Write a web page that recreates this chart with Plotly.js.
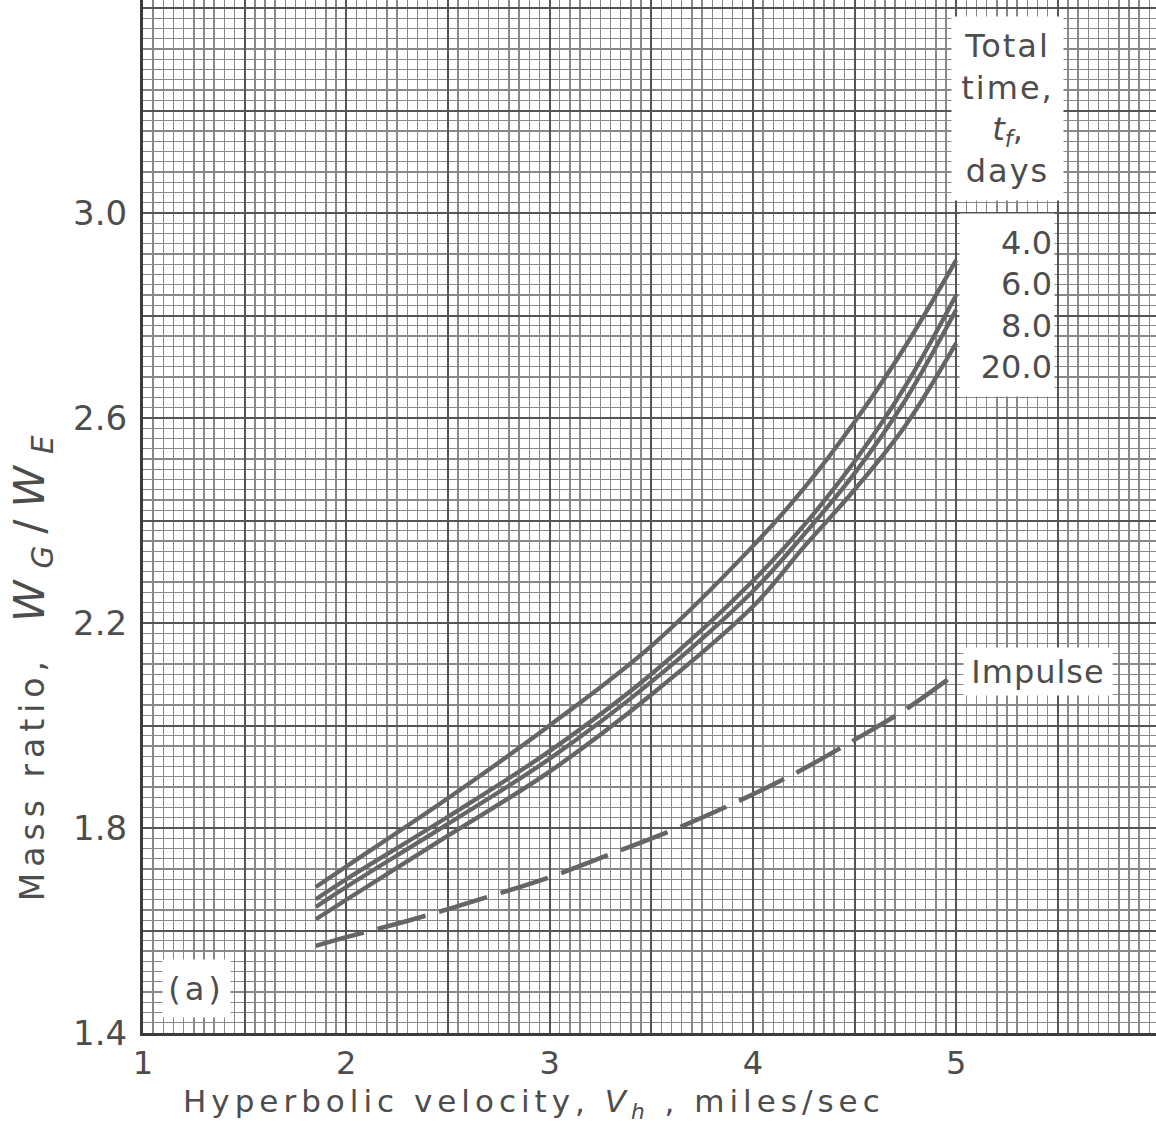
<!DOCTYPE html>
<html>
<head>
<meta charset="utf-8">
<script src="https://cdn.plot.ly/plotly-3.0.1.min.js"></script>
<style>
  html, body { margin: 0; padding: 0; background: #ffffff; }
  #chart { width: 1156px; height: 1133px; }
</style>
</head>
<body>
<div id="chart"></div>
<script>
// ---- Data ----
const velocity = [1.85, 2.0, 2.5, 3.0, 3.5, 4.0, 4.25, 4.5, 4.75, 5.0];
const ratio_t4  = [1.685, 1.725, 1.858, 2.000, 2.155, 2.350, 2.462, 2.592, 2.740, 2.908];
const ratio_t6  = [1.661, 1.700, 1.822, 1.950, 2.100, 2.282, 2.390, 2.515, 2.662, 2.840];
const ratio_t8  = [1.646, 1.685, 1.808, 1.935, 2.085, 2.262, 2.372, 2.492, 2.635, 2.811];
const ratio_t20 = [1.622, 1.660, 1.785, 1.910, 2.060, 2.232, 2.348, 2.460, 2.585, 2.746];

const impulseV     = [1.85, 2.0, 2.33, 2.7, 3.0, 3.3, 3.6, 3.9, 4.2, 4.5, 4.75, 5.0];
const impulseRatio = [1.570, 1.587, 1.622, 1.666, 1.704, 1.749, 1.795, 1.847, 1.905, 1.972, 2.031, 2.102];

const seriesNames = ['4.0', '6.0', '8.0', '20.0'];

const xTickVals = [1, 1.5, 2, 2.5, 3, 3.5, 4, 4.5, 5, 5.5];
const xTickText = ['1', '', '2', '', '3', '', '4', '', '5', ''];
const yTickVals = [1.4, 1.6, 1.8, 2.0, 2.2, 2.4, 2.6, 2.8, 3.0, 3.2, 3.4];
const yTickText = ['1.4', '', '1.8', '', '2.2', '', '2.6', '', '3.0', '', ''];

// ---- Styles ----
const FONT = 'DejaVu Sans, sans-serif';
const TEXT_COLOR = '#4d4d4d';
const CURVE_COLOR = '#656565';

const solidSets = [ratio_t4, ratio_t6, ratio_t8, ratio_t20];
const traces = solidSets.map((ys, i) => ({
  type: 'scatter', mode: 'lines',
  name: seriesNames[i],
  x: velocity, y: ys,
  line: { color: CURVE_COLOR, width: 4.3, shape: 'spline', smoothing: 1 },
  hoverinfo: 'skip', showlegend: false
}));
traces.push({
  type: 'scatter', mode: 'lines', name: 'Impulse',
  x: impulseV, y: impulseRatio,
  line: { color: CURVE_COLOR, width: 4.5, dash: '50px,14px', shape: 'spline', smoothing: 1 },
  hoverinfo: 'skip', showlegend: false
});

const labelFont = { family: FONT, size: 32, color: TEXT_COLOR };
const sp = (t, ls) => '<span style="letter-spacing:' + ls + 'px">' + t + '</span>';

const layout = {
  width: 1156, height: 1133,
  margin: { l: 143, r: 0, t: 0, b: 100, pad: 0 },
  paper_bgcolor: '#ffffff', plot_bgcolor: '#ffffff',
  showlegend: false,
  xaxis: {
    range: [1, 5.983],
    tickmode: 'array', tickvals: xTickVals, ticktext: xTickText,
    ticks: '', ticklabelstandoff: 0,
    tickfont: { family: FONT, size: 32, color: TEXT_COLOR },
    showgrid: true, gridcolor: '#555555', gridwidth: 2,
    minor: { dtick: 0.05, tick0: 1, showgrid: true, gridcolor: '#888888', gridwidth: 1.4, ticks: '' },
    showline: true, linecolor: '#3c3c3c', linewidth: 3,
    zeroline: false, fixedrange: true
  },
  yaxis: {
    range: [1.4, 3.4156],
    tickmode: 'array', tickvals: yTickVals, ticktext: yTickText,
    ticks: '', ticklabelstandoff: 6,
    tickfont: { family: FONT, size: 34, color: TEXT_COLOR },
    showgrid: true, gridcolor: '#555555', gridwidth: 2,
    minor: { dtick: 0.02, tick0: 1.4, showgrid: true, gridcolor: '#888888', gridwidth: 1.4, ticks: '' },
    showline: true, linecolor: '#3c3c3c', linewidth: 3,
    zeroline: false, fixedrange: true
  },
  annotations: [
    // axis titles
    {
      xref: 'paper', yref: 'paper', x: 0.386, y: -0.068,
      xanchor: 'center', yanchor: 'middle', showarrow: false,
      text: sp('Hyperbolic velocity, <i>V<sub>h</sub></i> , miles/sec', 5),
      font: { family: FONT, size: 31, color: TEXT_COLOR }
    },
    {
      xref: 'paper', yref: 'paper', x: -0.1096, y: 0.359,
      xanchor: 'center', yanchor: 'middle', showarrow: false, textangle: -90,
      text: sp('Mass ratio,&nbsp;&nbsp;', 6) +
            '<span style="font-size:42px;letter-spacing:12px"><i>W<sub>G</sub></i>/<i>W<sub>E</sub></i></span>',
      font: { family: FONT, size: 33, color: TEXT_COLOR }
    },
    // in-plot boxes
    {
      xref: 'x', yref: 'y', x: 1.265, y: 1.487, showarrow: false,
      text: sp('(a)', 4), bgcolor: '#ffffff', width: 63, height: 53, borderpad: 2,
      font: labelFont
    },
    {
      xref: 'x', yref: 'y', x: 5.254, y: 3.204, showarrow: false,
      text: sp('Total', 2) + '<br>' + sp('time,', 2) + '<br><i>t<sub>f</sub></i>,<br>' + sp('days', 2),
      align: 'center',
      bgcolor: '#ffffff', width: 107, height: 179, borderpad: 2,
      font: labelFont
    },
    {
      xref: 'x', yref: 'y', x: 5.251, y: 2.8205, showarrow: false,
      text: seriesNames.join('<br>'), align: 'right',
      bgcolor: '#ffffff', width: 90, height: 178, borderpad: 2,
      font: labelFont
    },
    {
      xref: 'x', yref: 'y', x: 5.404, y: 2.105, showarrow: false,
      text: sp('Impulse', 1), bgcolor: '#ffffff', width: 144, height: 43, borderpad: 2,
      font: labelFont
    }
  ]
};

Plotly.newPlot('chart', traces, layout, { staticPlot: true, displayModeBar: false });
</script>
</body>
</html>
